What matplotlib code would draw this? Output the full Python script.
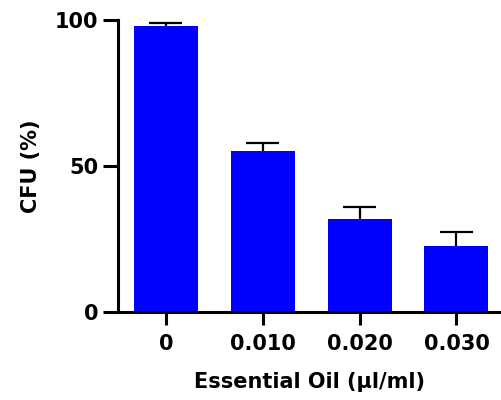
import matplotlib
matplotlib.use("Agg")
import matplotlib.pyplot as plt

# CFU survival vs essential oil concentration
labels = ["0", "0.010", "0.020", "0.030"]
cfu = [98.0, 55.0, 32.0, 22.6]
sd = [1.0, 3.0, 4.0, 4.8]

plt.rcParams["font.family"] = ["DejaVu Sans"]
plt.rcParams["font.weight"] = "bold"

fig = plt.figure(figsize=(5.01, 4.0), dpi=100)
ax = fig.add_axes([118 / 501, 88 / 400, 383 / 501, 292 / 400])

x = list(range(len(labels)))
ax.bar(x, cfu, width=0.66, color="#0000FF", zorder=2)

# upper error bars only (stem + cap)
tops = [c + e for c, e in zip(cfu, sd)]
ax.vlines(x, cfu, tops, color="black", linewidth=1.6, zorder=1)
for xi, t in zip(x, tops):
    ax.hlines(t, xi - 0.17, xi + 0.17, color="black", linewidth=1.6, zorder=1)

ax.set_xlim(-0.495, 3.46)
ax.set_ylim(0, 100)
ax.set_yticks([0, 50, 100])
ax.set_xticks(x)
ax.set_xticklabels(labels)

for s in ("top", "right"):
    ax.spines[s].set_visible(False)
for s in ("left", "bottom"):
    ax.spines[s].set_linewidth(2.2)
ax.tick_params(axis="both", width=2.2, labelsize=15)
ax.tick_params(axis="y", length=11, pad=3)
ax.tick_params(axis="x", length=9, pad=7)
for t in ax.get_xticklabels() + ax.get_yticklabels():
    t.set_fontweight("bold")

ax.set_ylabel("CFU (%)", fontsize=15, fontweight="bold", labelpad=10)
ax.set_xlabel("Essential Oil (\u03bcl/ml)", fontsize=15, fontweight="bold", labelpad=13)

fig.savefig("out.png", dpi=100)
